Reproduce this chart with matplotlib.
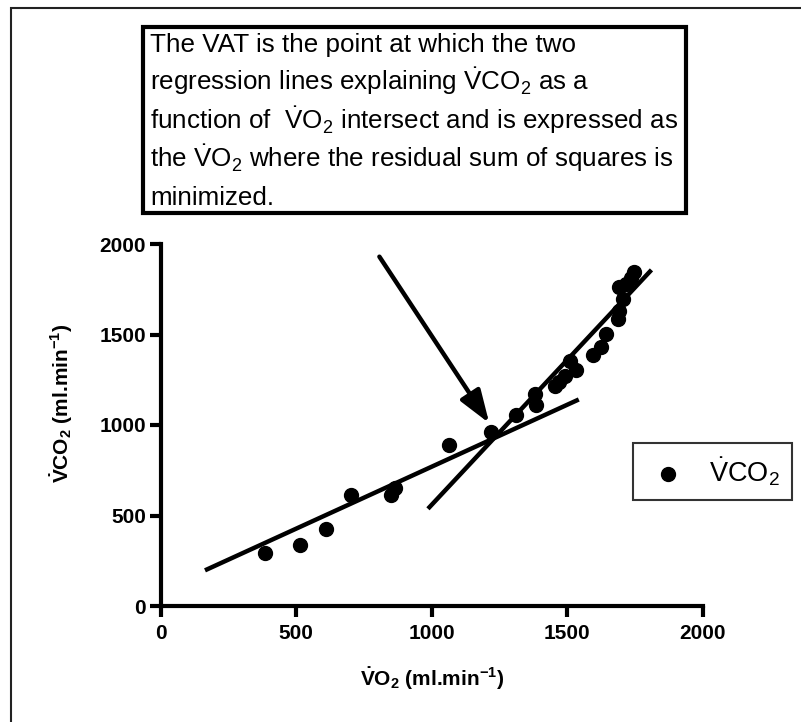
import matplotlib
matplotlib.use("Agg")
import matplotlib.pyplot as plt
from matplotlib.patches import Rectangle

plt.rcParams['font.family'] = ['Liberation Sans', 'DejaVu Sans']
plt.rcParams['mathtext.fontset'] = 'custom'
plt.rcParams['mathtext.rm'] = 'Liberation Sans'
plt.rcParams['mathtext.it'] = 'Liberation Sans:italic'
plt.rcParams['mathtext.bf'] = 'Liberation Sans:bold'

# Breath-by-breath gas exchange (ml/min)
vo2 = [386, 515, 609, 703, 851, 864, 1065, 1220, 1311, 1380, 1386, 1453, 1470,
       1490, 1508, 1530, 1593, 1625, 1641, 1686, 1692, 1705, 1692, 1717, 1735, 1744]
vco2 = [295, 339, 423, 616, 611, 651, 887, 959, 1056, 1172, 1113, 1218, 1240,
        1273, 1356, 1305, 1389, 1433, 1503, 1586, 1632, 1696, 1761, 1779, 1810, 1843]

# Two regression segments (end points)
fit_low_x = [164, 1542]
fit_low_y = [197, 1141]
fit_high_x = [986, 1810]
fit_high_y = [537, 1857]

# Arrow pointing at the ventilatory anaerobic threshold
arrow_tail = (807, 1930)
arrow_tip = (1212, 1010)

ticks = [0, 500, 1000, 1500, 2000]

W, H = 801, 722
fig = plt.figure(figsize=(W / 100, H / 100), dpi=100)
fig.patch.set_facecolor('white')


def fx(px):
    return px / W


def fy(py):
    return 1 - py / H


ax = fig.add_axes([fx(160.5), fy(606), (703 - 160.5) / W, (606 - 244) / H])
ax.set_xlim(0, 2000)
ax.set_ylim(0, 2000)
for s in ['top', 'right']:
    ax.spines[s].set_visible(False)
for s in ['left', 'bottom']:
    ax.spines[s].set_linewidth(3)
    ax.spines[s].set_capstyle('projecting')
ax.set_xticks(ticks)
ax.set_yticks(ticks)
ax.tick_params(axis='both', direction='out', length=8, width=3,
               labelsize=15)
ax.tick_params(axis='y', pad=2.5)
ax.tick_params(axis='x', pad=5)
for lab in ax.get_xticklabels() + ax.get_yticklabels():
    lab.set_fontweight('bold')

ax.plot(fit_low_x, fit_low_y, color='black', lw=3.2, clip_on=False,
        solid_capstyle='butt')
ax.plot(fit_high_x, fit_high_y, color='black', lw=3.2, clip_on=False,
        solid_capstyle='butt')
ax.scatter(vo2, vco2, s=100, color='black', zorder=3, clip_on=False,
           label=r'$\dot{\mathrm{V}}\mathrm{CO}_2$')

ax.annotate('', xy=arrow_tip, xytext=arrow_tail,
            arrowprops=dict(arrowstyle='-|>,head_length=20,head_width=7',
                            mutation_scale=1, lw=3.2, color='black',
                            shrinkA=0, shrinkB=0))

leg = ax.legend(loc='upper left', bbox_to_anchor=(fx(633), fy(443)),
                bbox_transform=fig.transFigure, frameon=True, fancybox=False,
                fontsize=19.5, handletextpad=0.72, borderpad=0.45,
                borderaxespad=0, handlelength=1.65, markerscale=1.0)
leg.get_frame().set_edgecolor('black')
leg.get_frame().set_linewidth(1.5)

# Axis titles
fig.text(fx(432), fy(686), r'$\mathbf{\dot{V}O_2}$ (ml.min$^{\mathbf{-1}}$)',
         ha='center', va='baseline', fontsize=15, fontweight='bold')
fig.text(fx(62), fy(403), r'$\mathbf{\dot{V}CO_2}$ (ml.min$^{\mathbf{-1}}$)',
         ha='center', va='center', rotation=90, fontsize=15,
         fontweight='bold')

# Explanatory note, framed to fit its widest line
note_lines = [
    r'The VAT is the point at which the two',
    r'regression lines explaining $\dot{\mathrm{V}}\mathrm{CO}_2$ as a',
    r'function of  $\dot{\mathrm{V}}\mathrm{O}_2$ intersect and is expressed as',
    r'the $\dot{\mathrm{V}}\mathrm{O}_2$ where the residual sum of squares is',
    r'minimized.',
]
baselines = [52, 90, 128.5, 167, 205]
note_texts = [fig.text(fx(150), fy(b), txt, ha='left', va='baseline',
                       fontsize=18.7)
              for txt, b in zip(note_lines, baselines)]
fig.canvas.draw()
renderer = fig.canvas.get_renderer()
right_px = max(t.get_window_extent(renderer).x1 for t in note_texts) + 8
fig.add_artist(Rectangle((fx(143), fy(213)), (right_px - 143) / W,
                         (213 - 27) / H, transform=fig.transFigure,
                         fill=False, edgecolor='black', lw=3))

# Outer frame
fig.add_artist(Rectangle((fx(11), fy(H + 20)), (W + 20) / W, (H + 12) / H,
                         transform=fig.transFigure, fill=False,
                         edgecolor='#222222', lw=1.5, clip_on=False))

fig.savefig('out.png', dpi=100, facecolor='white')
